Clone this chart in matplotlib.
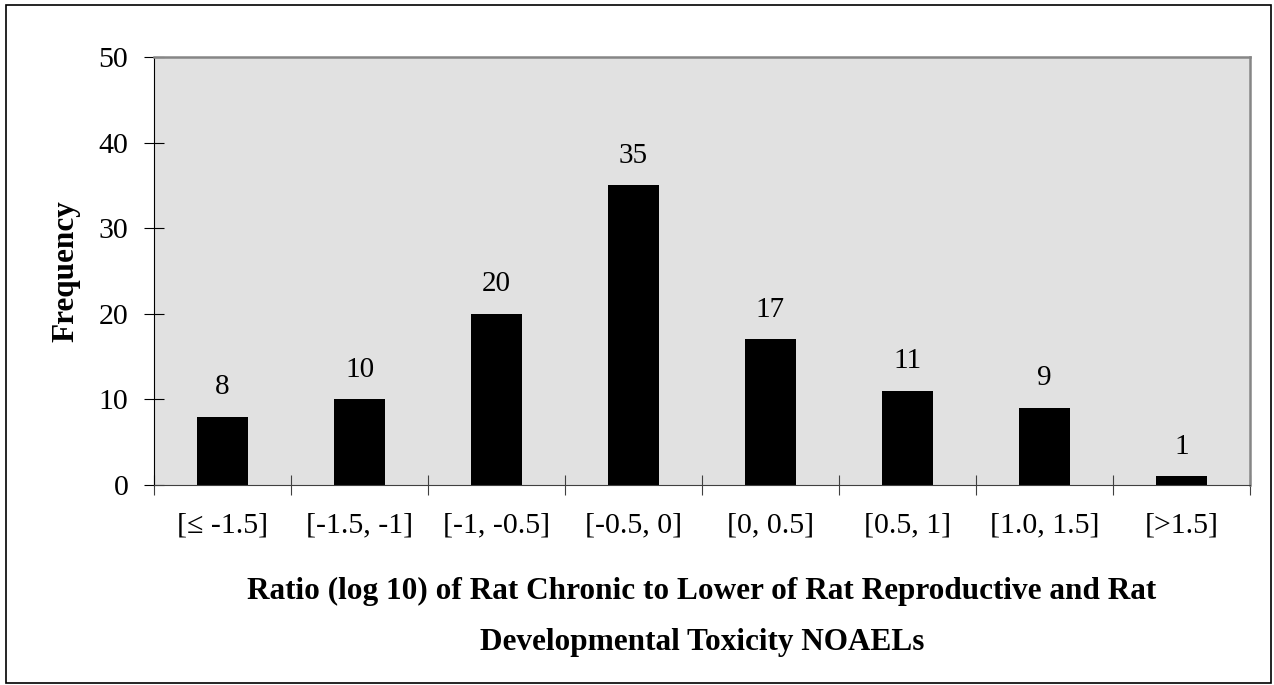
import matplotlib
matplotlib.use("Agg")
import matplotlib.pyplot as plt
from matplotlib.patches import Rectangle
import numpy as np

categories = ["[\u2264 -1.5]", "[-1.5, -1]", "[-1, -0.5]", "[-0.5, 0]", "[0, 0.5]", "[0.5, 1]", "[1.0, 1.5]", "[>1.5]"]
frequency = [8, 10, 20, 35, 17, 11, 9, 1]
yticks = [0, 10, 20, 30, 40, 50]

plt.rcParams['font.family'] = ['Liberation Serif', 'DejaVu Serif']

W, H = 1274, 685
fig = plt.figure(figsize=(W/100, H/100), dpi=100)
ax = fig.add_axes([154/W, 1-485/H, (1250-154)/W, (485-57)/H])
ax.set_facecolor('#e1e1e1')

x = np.arange(len(categories))
ax.bar(x, frequency, width=0.37, color='black')
for xi, v in zip(x, frequency):
    ax.annotate(str(v), (xi, v), xytext=(0, 12), textcoords='offset points',
                ha='center', va='bottom', fontsize=21)

ax.set_xlim(-0.5, len(categories) - 0.5)
ax.set_ylim(0, 50)
ax.set_yticks(yticks)
ax.set_yticklabels([str(t) for t in yticks], fontsize=21.5)
ax.set_xticks(np.arange(len(categories) + 1) - 0.5)
ax.set_xticklabels([])
ax.set_xticks(x, minor=True)
ax.set_xticklabels(categories, minor=True, fontsize=21.5)
ax.tick_params(axis='x', which='minor', length=0, pad=19.5)
ax.tick_params(axis='x', which='major', direction='inout', length=14, color='#404040')
ax.tick_params(axis='y', direction='inout', length=14, pad=11.5, color='black')

ax.spines['top'].set_color('#868686')
ax.spines['right'].set_color('#868686')
ax.spines['top'].set_linewidth(1.8)
ax.spines['right'].set_linewidth(1.8)
ax.spines['left'].set_color('black')
ax.spines['bottom'].set_color('#404040')

ax.set_ylabel('Frequency', fontsize=22.5, fontweight='bold')
ax.yaxis.set_label_coords(-0.0675, 0.5)
ax.set_xlabel('Ratio (log 10) of Rat Chronic to Lower of Rat Reproductive and Rat\nDevelopmental Toxicity NOAELs',
              fontsize=22.5, fontweight='bold', linespacing=2.0)
ax.xaxis.set_label_coords(0.5, -0.215)

fig.patches.append(Rectangle((6/W, 2/H), (1271-6)/W, (680-2)/H, transform=fig.transFigure,
                             fill=False, edgecolor='black', linewidth=1.2))

fig.savefig('out.png', dpi=100)
